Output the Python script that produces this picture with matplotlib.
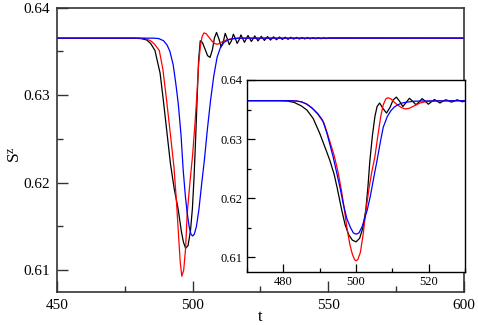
"""
S^z vs t: three dip curves, main view 450-600 with zoomed inset near the minimum.
Values read off the reference figure.
"""
import matplotlib
matplotlib.use("Agg")
import matplotlib.pyplot as plt
from matplotlib.ticker import MultipleLocator, FormatStrFormatter

plt.rcParams["font.family"] = ["Liberation Serif", "DejaVu Serif"]
plt.rcParams["mathtext.fontset"] = "custom"
plt.rcParams["mathtext.rm"] = "Liberation Serif"
plt.rcParams["mathtext.it"] = "Liberation Serif:italic"

# ---- main panel data ----
t_black = [450, 478, 481, 483, 484.5, 486.1, 488, 489.2, 490.5, 491.8, 493.2, 494.7,
           495.8, 496.6, 497.4, 498.3, 499.2, 499.9, 500.5, 501.1, 501.7, 502.2,
           502.8, 503.6, 504.5, 505.5, 506.4, 507.3, 508.0, 508.8, 509.7, 510.5,
           511.3, 512.0, 512.8, 513.5, 514.3, 515.0, 515.7, 516.4, 517.1, 517.8,
           519.1, 520.4, 521.65, 522.9, 524.1, 525.3, 526.45, 527.6, 528.7, 529.8,
           530.9, 532.0, 533.05, 534.1, 535.15, 536.2, 537.25, 538.3, 539.3, 540.3,
           541.3, 542.3, 543.3, 544.3, 545.3, 546.3, 547.3, 548.3, 549.3, 550.3, 600]
s_black = [0.6365, 0.6365, 0.63645, 0.6363, 0.6359, 0.6351, 0.6325, 0.6294, 0.6258,
           0.6222, 0.6193, 0.6169, 0.6145, 0.6132, 0.6125, 0.6128, 0.6145, 0.6170,
           0.6205, 0.6250, 0.6300, 0.6340, 0.6362, 0.6360, 0.6353, 0.6345, 0.6343,
           0.6352, 0.6365, 0.63715, 0.6364, 0.6355, 0.6361, 0.63705, 0.6364, 0.63575,
           0.6362, 0.63695, 0.6365, 0.6359, 0.6363, 0.63687, 0.63602, 0.6368,
           0.63612, 0.63675, 0.63619, 0.63671, 0.63624, 0.63668, 0.63628, 0.63665,
           0.63632, 0.63663, 0.63635, 0.63661, 0.63637, 0.6366, 0.63639, 0.63659,
           0.6364, 0.63658, 0.63641, 0.63657, 0.63642, 0.63656, 0.63643, 0.63655,
           0.63644, 0.63654, 0.63645, 0.63653, 0.6365]

t_red = [450, 480, 482.5, 484.5, 486.0, 487.7, 489.0, 490.4, 491.8, 493.1, 494.0,
         494.8, 495.4, 496.0, 496.7, 497.4, 498.0, 499.0, 500.0, 500.8, 501.5, 502.2,
         502.8, 503.5, 504.2, 505.0, 506.0, 507.0, 508.0, 509.0, 510.0, 511.0, 512.5,
         514, 517, 600]
s_red = [0.6365, 0.6365, 0.63645, 0.6362, 0.6358, 0.6351, 0.6330, 0.6294, 0.6255,
         0.6218, 0.6180, 0.6140, 0.6110, 0.6093, 0.6100, 0.6125, 0.6165, 0.6200,
         0.6232, 0.6265, 0.6297, 0.6335, 0.6355, 0.6367, 0.6371, 0.6370, 0.6366,
         0.6362, 0.6359, 0.6358, 0.6359, 0.6361, 0.6363, 0.6364, 0.6365, 0.6365]

t_blue = [450, 485.5, 487.5, 489.3, 490.6, 491.6, 492.8, 493.8, 494.7, 495.7, 496.5,
          497.3, 498.0, 498.8, 499.4, 500.0, 500.6, 501.4, 502.3, 503.3, 504.3, 505.4,
          506.6, 507.8, 509.0, 510.2, 511.5, 513, 515, 517, 600]
s_blue = [0.6365, 0.6365, 0.63645, 0.6362, 0.6357, 0.6350, 0.6335, 0.6313, 0.6290,
          0.6255, 0.6215, 0.6185, 0.6165, 0.6148, 0.6141, 0.6139, 0.6141, 0.6150,
          0.6169, 0.6198, 0.6225, 0.6260, 0.6294, 0.6322, 0.6343, 0.6354, 0.6360,
          0.6363, 0.63645, 0.6365, 0.6365]

# ---- inset data (curves aligned at t = 500) ----
ti_black = [470, 479, 481, 483, 485, 486.5, 488.2, 490.0, 491.9, 492.8, 494.0, 494.8,
            496.0, 497.0, 498.0, 499.0, 500.0, 501.0, 501.9, 502.7, 503.3, 503.8,
            504.5, 505.2, 505.8, 506.5, 507.4, 508.4, 509.4, 510.2, 511.1, 512.0,
            512.9, 513.8, 514.7, 515.6, 516.5, 517.4, 518.2, 519.1, 519.9, 520.75,
            521.6, 522.35, 523.1, 523.9, 524.7, 525.45, 526.2, 527.0, 527.8, 528.55,
            529.3, 530.5]
si_black = [0.6365, 0.6365, 0.63645, 0.6362, 0.6356, 0.6349, 0.6335, 0.6310, 0.6279,
            0.6264, 0.6240, 0.6218, 0.6182, 0.6155, 0.6138, 0.6129, 0.6126, 0.6132,
            0.6150, 0.6180, 0.6220, 0.6262, 0.6305, 0.6338, 0.6355, 0.6361, 0.6352,
            0.6344, 0.6354, 0.6366, 0.6371, 0.6364, 0.6355, 0.6362, 0.6369, 0.6364,
            0.6358, 0.6363, 0.63685, 0.6364, 0.6359, 0.6363, 0.6367, 0.6364, 0.6361,
            0.6364, 0.63665, 0.6365, 0.63625, 0.6364, 0.63665, 0.6365, 0.6363, 0.6366]

ti_red = [470, 481, 483.5, 485, 486.5, 488, 489.5, 491.2, 492.5, 494.0, 495.0, 496.0,
          496.7, 497.5, 498.3, 499.0, 499.6, 500.0, 500.5, 501.2, 502.0, 502.7, 503.5,
          504.3, 505.2, 506.0, 506.8, 507.5, 508.2, 508.8, 509.6, 510.6, 511.6, 512.6,
          513.6, 514.6, 515.6, 516.6, 517.6, 518.6, 520, 522, 530.5]
si_red = [0.6365, 0.6365, 0.63645, 0.6363, 0.6359, 0.6352, 0.6342, 0.6327, 0.6302,
          0.6272, 0.6246, 0.6213, 0.6185, 0.6150, 0.6122, 0.6105, 0.6096, 0.6094,
          0.6096, 0.6108, 0.6140, 0.6178, 0.6213, 0.6243, 0.6270, 0.6305, 0.6338,
          0.6358, 0.6368, 0.6370, 0.6368, 0.6362, 0.6357, 0.6353, 0.6351, 0.6352,
          0.6355, 0.6358, 0.6361, 0.63625, 0.6364, 0.63645, 0.6365]

ti_blue = [470, 481, 483.5, 485, 486.5, 488, 489.5, 490.8, 492.0, 493.7, 494.8, 495.6,
           496.5, 497.5, 498.5, 499.3, 500.0, 500.8, 501.7, 502.5, 503.1, 504.0, 504.9,
           505.8, 506.7, 507.5, 508.6, 509.6, 510.5, 511.5, 512.7, 514.0, 516, 518.5,
           530.5]
si_blue = [0.6365, 0.6365, 0.63645, 0.6363, 0.6359, 0.6352, 0.6343, 0.6332, 0.6310,
           0.6270, 0.6240, 0.6218, 0.6190, 0.6165, 0.6150, 0.6141, 0.6139, 0.6141,
           0.6152, 0.6168, 0.6180, 0.6205, 0.6235, 0.6264, 0.6295, 0.6320, 0.6338,
           0.6348, 0.6354, 0.6358, 0.6361, 0.63625, 0.6364, 0.63645, 0.6365]

fig = plt.figure(figsize=(4.78, 3.25), dpi=100)
ax = fig.add_axes([0.1192, 0.1015, 0.8515, 0.8754])

lw = 0.9
ax.plot(t_black, s_black, color="black", lw=lw)
ax.plot(t_red, s_red, color="red", lw=lw)
ax.plot(t_blue, s_blue, color="blue", lw=lw)

ax.set_xlim(450, 600)
ax.set_ylim(0.6075, 0.64)
ax.xaxis.set_major_locator(MultipleLocator(50))
ax.xaxis.set_minor_locator(MultipleLocator(25))
ax.yaxis.set_major_locator(MultipleLocator(0.01))
ax.yaxis.set_minor_locator(MultipleLocator(0.005))
ax.yaxis.set_major_formatter(FormatStrFormatter("%.2f"))
ax.tick_params(which="both", direction="in", top=False, right=False,
               labelsize=11, color="#333333")
ax.tick_params(which="major", length=8, width=1.0, pad=5)
ax.tick_params(which="minor", length=4, width=1.0)
for sp in ax.spines.values():
    sp.set_color("#333333")
    sp.set_linewidth(1.2)

# axis titles placed where the reference has them
fig.text(260 / 478, 1 - 317 / 325, "t", fontsize=12, ha="center", va="center")
fig.text(16 / 478, 1 - 155 / 325, r"S$^{\rm z}$", fontsize=12.5, rotation=90,
         ha="center", va="center")

# inset
axi = fig.add_axes([0.5167, 0.1631, 0.4561, 0.5908])
axi.plot(ti_black, si_black, color="black", lw=lw)
axi.plot(ti_red, si_red, color="red", lw=lw)
axi.plot(ti_blue, si_blue, color="blue", lw=lw)
axi.set_xlim(470, 530)
axi.set_ylim(0.6075, 0.64)
axi.xaxis.set_major_locator(MultipleLocator(20))
axi.xaxis.set_minor_locator(MultipleLocator(10))
axi.yaxis.set_major_locator(MultipleLocator(0.01))
axi.yaxis.set_minor_locator(MultipleLocator(0.005))
axi.yaxis.set_major_formatter(FormatStrFormatter("%.2f"))
axi.tick_params(which="both", direction="in", top=False, right=False, labelsize=9)
axi.tick_params(which="major", length=6, width=0.9, pad=3)
axi.tick_params(which="minor", length=3, width=0.9)
for sp in axi.spines.values():
    sp.set_color("black")
    sp.set_linewidth(1.0)

fig.savefig("out.png", dpi=100)
